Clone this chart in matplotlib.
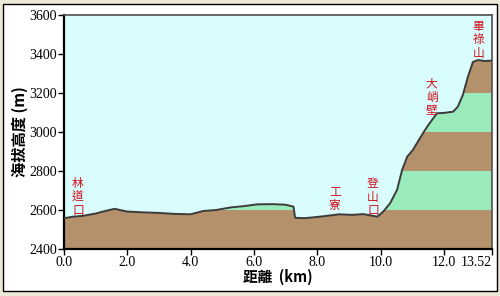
import matplotlib.pyplot as plt
import matplotlib.patches as patches
import numpy as np

plt.rcParams["font.family"] = ["Noto Sans CJK TC", "DejaVu Sans"]

# 距離 (km) / 海拔 (m)
dist = [0.0, 0.3, 0.6, 1.0, 1.3, 1.6, 2.0, 2.5, 3.0, 3.5, 4.0, 4.4, 4.8,
        5.3, 5.7, 6.1, 6.6, 7.0, 7.25, 7.3, 7.6, 8.1, 8.7, 9.1, 9.45, 9.9,
        10.08, 10.3, 10.52, 10.68, 10.84, 11.02, 11.25, 11.47, 11.78, 12.0,
        12.29, 12.44, 12.6, 12.76, 12.92, 13.08, 13.3, 13.52]
elev = [2558, 2566, 2570, 2582, 2595, 2606, 2592, 2588, 2585, 2580, 2578,
        2595, 2600, 2614, 2620, 2629, 2630, 2627, 2617, 2560, 2558, 2566,
        2578, 2575, 2579, 2566, 2591, 2634, 2703, 2805, 2873, 2908, 2970,
        3027, 3096, 3098, 3104, 3130, 3190, 3284, 3360, 3369, 3364, 3366]

# 地標
places = ["林道口", "工寮", "登山口", "大峭壁", "畢祿山"]
place_km = [0.44, 8.56, 9.76, 11.62, 13.1]
place_top = [2769, 2725, 2769, 3280, 3575]

xticks = [0.0, 2.0, 4.0, 6.0, 8.0, 10.0, 12.0, 13.52]
xticklabels = ["0.0", "2.0", "4.0", "6.0", "8.0", "10.0", "12.0", "13.52"]
yticks = [2400, 2600, 2800, 3000, 3200, 3400, 3600]

brown = "#b4916a"
green = "#9beabc"

fig = plt.figure(figsize=(5.0, 2.96), dpi=100, facecolor="#ece9d8")
frame = patches.Rectangle((0.006, 0.017), 0.988, 0.969, transform=fig.transFigure,
                          facecolor="white", edgecolor="black", linewidth=1.0, zorder=-10)
fig.patches.append(frame)

ax = fig.add_axes([0.128, 0.1588, 0.856, 0.7905])
ax.set_facecolor("#d9fcfc")

# 剖面多邊形 (用來裁切色帶)
poly = ax.fill_between(dist, 2400, elev, facecolor="none", edgecolor="none")
clip = poly.get_paths()[0]
for i, lo in enumerate(range(2400, 3600, 200)):
    band = ax.axhspan(lo, lo + 200, facecolor=brown if i % 2 == 0 else green,
                      edgecolor="none", zorder=1)
    band.set_clip_path(clip, ax.transData)

ax.plot(dist, elev, color="#3c3c3c", linewidth=1.4, zorder=3)

for name, km, top in zip(places, place_km, place_top):
    ax.text(km, top, "\n".join(name), color="#d0101c", fontsize=8.5,
            ha="center", va="top", linespacing=1.05, zorder=4)

ax.set_xlim(0, 13.52)
ax.set_ylim(2400, 3600)
ax.set_xticks(xticks)
ax.set_xticklabels(xticklabels)
ax.set_yticks(yticks)
ax.tick_params(direction="out", length=4, width=1, pad=1, labelsize=10)
for lab in ax.get_xticklabels() + ax.get_yticklabels():
    lab.set_family("Liberation Serif")
ax.get_xticklabels()[-1].set_horizontalalignment("right")
ax.get_xticklabels()[-1].set_x(13.52)

for s in ["left", "bottom"]:
    ax.spines[s].set_linewidth(1.6)
    ax.spines[s].set_color("black")
for s in ["top", "right"]:
    ax.spines[s].set_linewidth(1.2)
    ax.spines[s].set_color("#505050")

ax.set_xlabel("距離  (km)", fontsize=10.5, fontweight="bold", labelpad=0)
ax.set_ylabel("海拔高度 (m)", fontsize=11, fontweight="bold", labelpad=1)

fig.savefig("out.png", dpi=100, facecolor=fig.get_facecolor())
